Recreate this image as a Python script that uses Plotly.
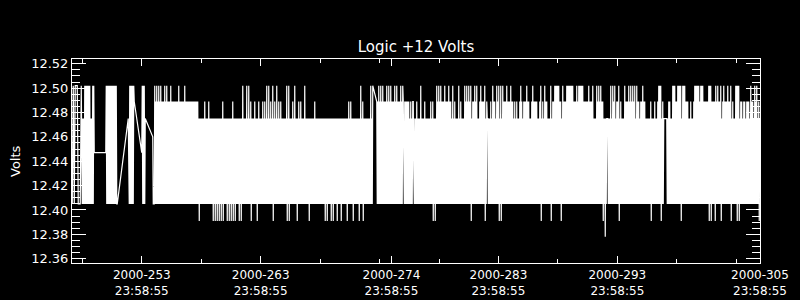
import plotly.graph_objects as go

# Quantized telemetry levels (Volts)
LEVEL_VOLTS = [12.378, 12.391, 12.405, 12.419, 12.433, 12.447, 12.460, 12.475, 12.489, 12.502]

# Sample codes: one character per sample slot (two slots per screen pixel column),
# digit = index into LEVEL_VOLTS, '.' = no sample (data gap, line connects across)
SAMPLE_CODES = [
    "2.9.2.9...9.2...2.9.", "27272929292929292727", "29295...............",
    ".......5929292929292", "92929292922.........", "............7.292929",
    "29298..............5", "9292927.............", ".62.2928292829282928",
    "28282928292828282928", "28282828282829282828", "28282928282828282828",
    "28282828282827172727", "27272827272728272727", "27172717271727172717",
    "28172727271727172717", "28172717272727172717", "29272727292729272817",
    "27272827271728272727", "28272827292729272827", "29172827292728272827",
    "27272727291729172727", "28272927271728272827", "27272927272727172727",
    "27272827272727272727", "27272717271727272717", "27172727271727272717",
    "27272727271728272827", "27172727272727172927", "28172727272727272927",
    "29.......82829282928", "29282828292829282928", "28282928292828282928",
    "29852828282828272827", "28842727282727272927", "27272827272727272827",
    "28172717292829282928", "28282928282829282827", "29272827272729272827",
    "27272928292829282917", "28282928292727282928", "28282917287727272827",
    "29282827292829172917", "29282828292828282928", "28272827282727282928",
    "27282828292828272728", "29282828282727282917", "28272928282727272917",
    "28282929292929282817", "29282828292929292929", "29282828292829292929",
    "29282828282829282828", "29272727292829282928", "28172707277727272927",
    "29282927282829172827", "27272928282829282928", "29282927292828272828",
    "29282827272727272817", "27272827272829292917", "28277777772728282727",
    "29292928282929292917", "29292928282827272827", "27282929292929282929",
    "29282828282829192918", "28282819282928282917", "28292828282928282917",
    "28272729291929172828", "27282827282828272928", "2827292829272817",
]

X_LEFT_DAY = 248.13        # day-of-year 2000 at the left edge of the plot
CADENCE_DAYS = 0.0420562   # sampling cadence (days)

# Axis ticks (day-of-year at 23:58:55)
MAJOR_DAYS = [253, 263, 274, 283, 293, 305]
MINOR_DAYS = [248, 258, 268, 273, 278, 288, 298, 303]
TIME_OF_DAY = "23:58:55"
Y_TICKS = [12.36, 12.38, 12.40, 12.42, 12.44, 12.46, 12.48, 12.50, 12.52]

tod_frac = (23 * 3600 + 58 * 60 + 55) / 86400.0

codes = "".join(SAMPLE_CODES)
xs, ys = [], []
for i, ch in enumerate(codes):
    if ch == ".":
        continue
    xs.append(X_LEFT_DAY + (i + 0.5) * CADENCE_DAYS)
    ys.append(LEVEL_VOLTS[int(ch)])

FONT = "DejaVu Sans"

fig = go.Figure()
fig.add_trace(go.Scatter(
    x=xs, y=ys, mode="lines",
    line=dict(color="white", width=1.2, simplify=False),
    hoverinfo="skip", showlegend=False,
))

fig.update_layout(
    width=800, height=300,
    margin=dict(l=72, r=40, t=59, b=37, autoexpand=False),
    paper_bgcolor="black", plot_bgcolor="black",
    font=dict(family=FONT, color="white"),
    title=dict(text="Logic +12 Volts", x=0.5, xref="paper", xanchor="center",
               y=1 - 46.5 / 300, yref="container", yanchor="middle",
               font=dict(family=FONT, size=15, color="white")),
    showlegend=False,
)

fig.update_xaxes(
    range=[X_LEFT_DAY, MAJOR_DAYS[-1] + tod_frac],
    automargin=False,
    tickmode="array",
    tickvals=[d + tod_frac for d in MAJOR_DAYS],
    ticktext=[f"2000-{d:03d}<br>{TIME_OF_DAY}" for d in MAJOR_DAYS],
    ticks="inside", ticklen=7, tickwidth=1, tickcolor="white",
    showline=True, linecolor="white", linewidth=1, mirror="ticks",
    showgrid=False, zeroline=False,
    ticklabelstandoff=1,
    tickfont=dict(family=FONT, size=12, color="white"),
    minor=dict(tickmode="array", tickvals=[d + tod_frac for d in MINOR_DAYS],
               ticks="inside", ticklen=4, tickcolor="white", tickwidth=1, showgrid=False),
)

fig.update_yaxes(
    range=[12.3565, 12.5239],
    automargin=False,
    tickmode="array", tickvals=Y_TICKS,
    ticktext=[f"{v:.2f}" for v in Y_TICKS],
    ticks="inside", ticklen=14, tickwidth=1, tickcolor="white",
    showline=True, linecolor="white", linewidth=1, mirror="ticks",
    showgrid=False, zeroline=False,
    tickfont=dict(family=FONT, size=13, color="white"),
    minor=dict(dtick=0.005, tick0=12.36, ticks="inside", ticklen=8,
               tickcolor="white", tickwidth=1, showgrid=False),
)

fig.add_annotation(
    text="Volts", textangle=-90, xref="paper", yref="paper",
    x=(15 - 72) / 688, y=0.5, xanchor="center", yanchor="middle",
    showarrow=False, font=dict(family=FONT, size=13, color="white"),
)

fig.write_html("out.html")
